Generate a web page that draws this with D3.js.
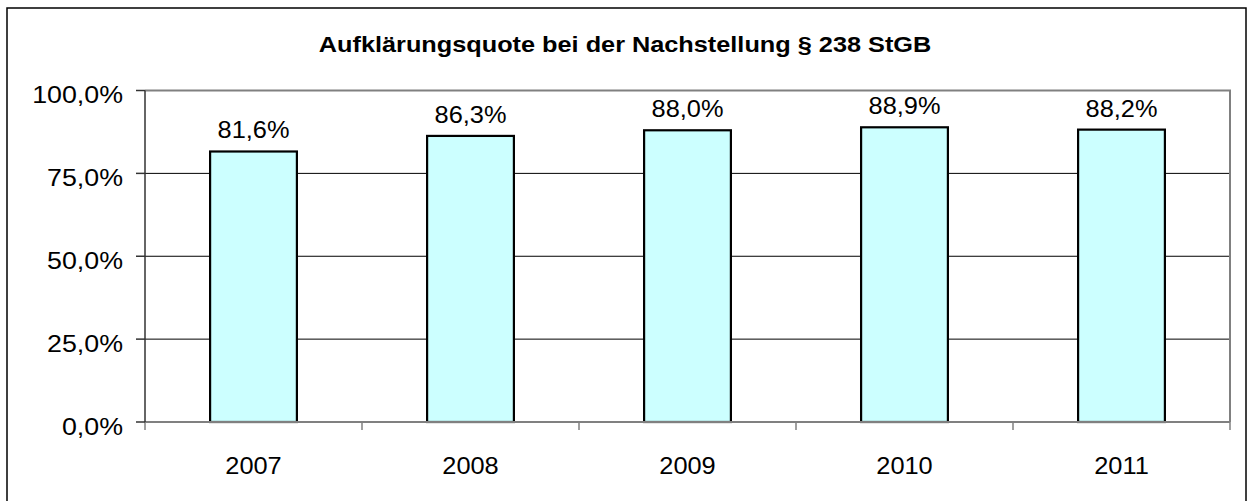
<!DOCTYPE html>
<html>
<head>
<meta charset="utf-8">
<script src="https://cdn.jsdelivr.net/npm/d3@7"></script>
<style>
  body { margin: 0; background: #fff; }
  text { font-family: "Liberation Sans", Arial, sans-serif; fill: #000; }
</style>
</head>
<body>
<div id="chart"></div>
<script>
// data
const years = ['2007', '2008', '2009', '2010', '2011'];
const quote = [81.6, 86.3, 88.0, 88.9, 88.2];
const yTicks = [0, 25, 50, 75, 100];
const title = 'Aufklärungsquote bei der Nachstellung § 238 StGB';

const width = 1249, height = 501;
const margin = { top: 90.5, right: 19, bottom: 79, left: 145 };

const fmt = (v) => v.toFixed(1).replace('.', ',') + '%';

const svg = d3.select('#chart').append('svg')
  .attr('width', width)
  .attr('height', height);

// outer frame
svg.append('rect')
  .attr('x', 7).attr('y', 8)
  .attr('width', 1239).attr('height', 500)
  .attr('fill', 'none')
  .attr('stroke', '#000')
  .attr('stroke-width', 1.5);

const x = d3.scaleBand()
  .domain(years)
  .range([margin.left, width - margin.right])
  .paddingInner(0.6)
  .paddingOuter(0.3);

const y = d3.scaleLinear()
  .domain([0, 100])
  .range([height - margin.bottom, margin.top]);

// helper: the original text is a bit wider than Arial, so stretch it
function label(g, tx, ty, str, anchor, size, sx, weight) {
  g.append('g')
    .attr('transform', `translate(${tx},${ty}) scale(${sx},1)`)
    .append('text')
    .attr('text-anchor', anchor)
    .attr('font-size', size)
    .attr('font-weight', weight || 'normal')
    .text(str);
}

const x0 = margin.left, x1 = width - margin.right;
const y0 = y(0), y1 = y(100);

// gridlines
svg.append('g').selectAll('line')
  .data(yTicks.filter((d) => d > 0 && d < 100))
  .join('line')
  .attr('x1', x0).attr('x2', x1)
  .attr('y1', (d) => y(d)).attr('y2', (d) => y(d))
  .attr('stroke', '#000')
  .attr('stroke-width', 1);

// plot border (top/right)
svg.append('path')
  .attr('d', `M${x0},${y1}H${x1}V${y0}`)
  .attr('fill', 'none')
  .attr('stroke', '#808080')
  .attr('stroke-width', 2);

// bars
svg.append('g').selectAll('rect')
  .data(quote)
  .join('rect')
  .attr('x', (d, i) => x(years[i]))
  .attr('y', (d) => y(d))
  .attr('width', x.bandwidth())
  .attr('height', (d) => y(0) - y(d))
  .attr('fill', '#ccffff')
  .attr('stroke', '#000')
  .attr('stroke-width', 2.2);

// x axis + ticks at category boundaries
const step = x.step();
svg.append('line')
  .attr('x1', x0).attr('x2', x1)
  .attr('y1', y0).attr('y2', y0)
  .attr('stroke', '#808080').attr('stroke-width', 2);
svg.append('g').selectAll('line')
  .data(d3.range(years.length + 1))
  .join('line')
  .attr('x1', (i) => x0 + i * step).attr('x2', (i) => x0 + i * step)
  .attr('y1', y0).attr('y2', y0 + 8)
  .attr('stroke', '#808080').attr('stroke-width', 1.5);

// y axis
svg.append('line')
  .attr('x1', x0).attr('x2', x0)
  .attr('y1', y1).attr('y2', y0)
  .attr('stroke', '#333').attr('stroke-width', 1.5);
svg.append('g').selectAll('line')
  .data(yTicks)
  .join('line')
  .attr('x1', x0 - 9).attr('x2', x0)
  .attr('y1', (d) => y(d)).attr('y2', (d) => y(d))
  .attr('stroke', '#333').attr('stroke-width', 1.5);

const txt = svg.append('g');
yTicks.forEach((d) => label(txt, 123, y(d) + 12.5, fmt(d), 'end', 23.5, 1.14));
years.forEach((d) => label(txt, x(d) + x.bandwidth() / 2, 473.5, d, 'middle', 23.5, 1.08));
quote.forEach((d, i) =>
  label(txt, x(years[i]) + x.bandwidth() / 2, y(d) - 13, fmt(d), 'middle', 23.5, 1.08));

label(txt, 625, 51.5, title, 'middle', 22, 1.15, 'bold');
</script>
</body>
</html>
